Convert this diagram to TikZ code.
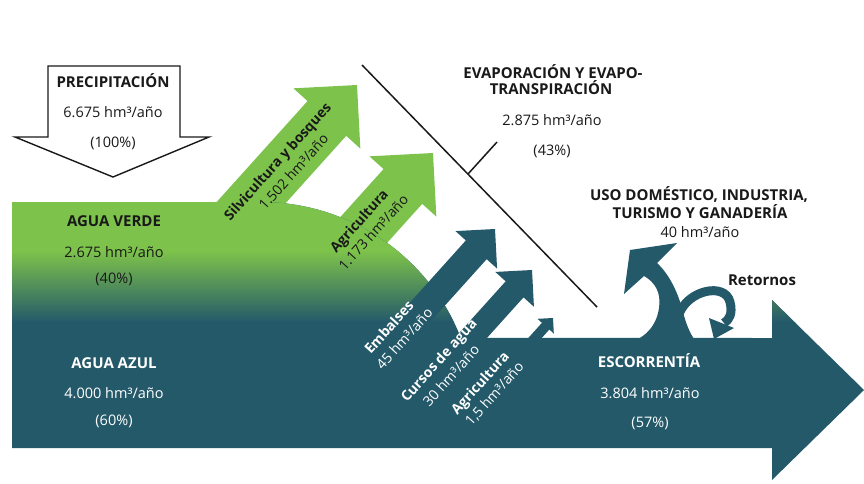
\documentclass[tikz,border=0pt]{standalone}
\usepackage{fontspec}
\setmainfont{Open Sans}
\definecolor{leaf}{RGB}{125,194,75}
\definecolor{sea}{RGB}{36,89,106}
\definecolor{ink}{RGB}{25,25,25}
% broad flow arrow, tip at the local origin, pointing along +x
% #1 colour, #2 shaft length, #3 shaft half width, #4 head half width (= head length)
\newcommand\fatarrow[4]{%
  \fill[#1] (0,0) -- (-#4,-#4) -- (-#4,-#3) -- ({-#4-#2},-#3) -- ({-#4-#2},#3) -- (-#4,#3) -- (-#4,#4) -- cycle;}
\tikzset{
  txt/.style={inner sep=0pt, text height=10pt, text depth=0pt, font=\fontsize{14.5}{16}\selectfont, text=ink},
  btxt/.style={txt, font=\fontsize{15}{17}\selectfont\bfseries},
  wtxt/.style={txt, text=white},
  wbtxt/.style={btxt, text=white},
  rtxt/.style={txt, font=\fontsize{14}{16}\selectfont, rotate=48},
  rbtxt/.style={txt, font=\fontsize{14}{16}\selectfont\bfseries, rotate=48},
}
\begin{document}
\begin{tikzpicture}[x=1pt, y=-1pt]
\useasboundingbox (0,0) rectangle (864,483);
\fill[white] (0,0) rectangle (864,483);

% precipitation arrow
\draw[ink, line width=1.4pt, fill=white] (48,66) -- (180,66) -- (180,137) -- (209,137) -- (113,177) -- (15,137) -- (48,137) -- cycle;

% green-water flows
\begin{scope}[shift={(357,85)}, rotate=48]
  \fatarrow{leaf}{180}{26}{45}
  \coordinate (silvA) at (-110,-8);
  \coordinate (silvB) at (-107,11);
\end{scope}
\begin{scope}[shift={(433,153)}, rotate=48]
  \fatarrow{leaf}{150}{26}{45}
  \coordinate (agvA) at (-100,-9.5);
  \coordinate (agvB) at (-99,9);
\end{scope}

% main water body: green on top, blue below
\begin{scope}
  \clip (12,202) -- (261,202) arc[start angle=-90, end angle=-21.6, radius=215] -- (772,338) -- (772,300) -- (864,390) -- (772,480) -- (772,448) -- (12,448) -- cycle;
  \fill[sea] (0,180) rectangle (864,483);
  \fill[leaf] (0,180) rectangle (864,252);
  \shade[top color=leaf, bottom color=sea] (0,251) rectangle (864,322);
\end{scope}

% blue-water flows
\begin{scope}[shift={(495,229)}, rotate=48]
  \fatarrow{sea}{120}{14}{28}
  \coordinate (embA) at (-144,-13);
  \coordinate (embB) at (-142,6);
\end{scope}
\begin{scope}[shift={(532,270)}, rotate=48]
  \fatarrow{sea}{80}{12}{26}
  \coordinate (curA) at (-129.5,-9);
  \coordinate (curB) at (-132.5,10.5);
\end{scope}
\begin{scope}[shift={(553,318)}, rotate=48]
  \fatarrow{sea}{35}{5}{11}
  \coordinate (agbA) at (-97,-11);
  \coordinate (agbB) at (-95.5,7);
\end{scope}

% domestic use rising from the runoff, with its curled return
\fill[sea] (638,339) .. controls (655,330) and (661,312) .. (659,296)
  .. controls (657,286) and (651,280) .. (644,276) -- (624,294) -- (630,250) -- (677,243) -- (657,263)
  .. controls (669,274) and (678,292) .. (683,312) .. controls (686,324) and (690,333) .. (694,339) -- cycle;
\draw[sea, line width=9pt] (679,314) .. controls (688,290) and (725,282) .. (730,302) .. controls (733,314) and (729,320) .. (724,323);
\fill[sea] (714,339) -- (734,328) -- (709,318) -- cycle;

% evaporation divide
\coordinate (evTop) at (362,65);
\coordinate (evEnd) at (597,307);
\coordinate (tickFoot) at (468,174);
\coordinate (tickTop) at (497,142);
\draw[ink, line width=1.5pt] (evTop) -- (evEnd);
\draw[ink, line width=1.5pt] (tickFoot) -- (tickTop);

% labels
\node[btxt] (precT) at (113,82) {PRECIPITACIÓN};
\node[txt] (precV) at (113,112) {6.675 hm³/año};
\node[txt] (precP) at (113,142) {(100\%)};

\node[btxt] (evT1) at (553,73) {EVAPORACIÓN Y EVAPO-};
\node[btxt] (evT2) at (551,89) {TRANSPIRACIÓN};
\node[txt] (evV) at (552,120) {2.875 hm³/año};
\node[txt] (evP) at (552,150) {(43\%)};

\node[btxt] (usoT1) at (699,195) {USO DOMÉSTICO, INDUSTRIA,};
\node[btxt] (usoT2) at (700,213) {TURISMO Y GANADERÍA};
\node[txt] (usoV) at (700,232) {40 hm³/año};
\node[btxt] (ret) at (762,280) {Retornos};

\node[btxt] (verdeT) at (114,221) {AGUA VERDE};
\node[txt] (verdeV) at (114,252) {2.675 hm³/año};
\node[txt] (verdeP) at (114,278) {(40\%)};

\node[wbtxt] (azulT) at (114,363) {AGUA AZUL};
\node[wtxt] (azulV) at (114,393) {4.000 hm³/año};
\node[wtxt] (azulP) at (114,420) {(60\%)};

\node[wbtxt] (escT) at (649,362) {ESCORRENTÍA};
\node[wtxt] (escV) at (650,393) {3.804 hm³/año};
\node[wtxt] (escP) at (650,422) {(57\%)};

\node[rbtxt] (silvT) at (silvA) {Silvicultura y bosques};
\node[rtxt] (silvV) at (silvB) {1.502 hm³/año};
\node[rbtxt] (agvT) at (agvA) {Agricultura};
\node[rtxt] (agvV) at (agvB) {1.173 hm³/año};
\node[rbtxt, text=white] (embT) at (embA) {Embalses};
\node[rtxt, text=white] (embV) at (embB) {45 hm³/año};
\node[rbtxt, text=white] (curT) at (curA) {Cursos de agua};
\node[rtxt, text=white] (curV) at (curB) {30 hm³/año};
\node[rbtxt, text=white] (agbT) at (agbA) {Agricultura};
\node[rtxt, text=white] (agbV) at (agbB) {1,5 hm³/año};
\end{tikzpicture}
\end{document}
